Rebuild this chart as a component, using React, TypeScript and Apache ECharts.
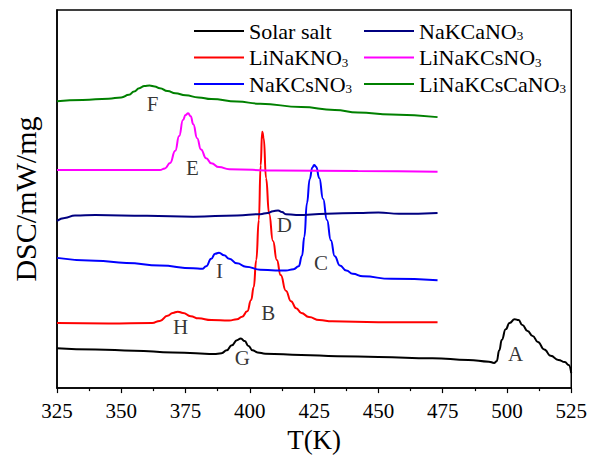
import React, { useEffect, useRef } from "react";
import * as echarts from "echarts";

// DSC heat-flow traces (T in K, DSC signal with a vertical offset per sample)
const solarSalt: [number, number][] = [
  [325, 0.95], [340, 0.92], [355, 0.89], [370, 0.85], [379, 0.83], [386, 0.81],
  [389, 0.83], [391, 0.9], [393, 1.02], [395, 1.14], [396.5, 1.18], [398, 1.12],
  [399.5, 1.0], [401, 0.9], [403, 0.85], [406, 0.82], [420, 0.79], [434, 0.76],
  [450, 0.74], [471, 0.71], [485, 0.67], [493, 0.63], [495, 0.6], [496, 0.64],
  [497, 0.9], [498, 1.15], [499.5, 1.4], [501, 1.55], [503, 1.64], [504.5, 1.62],
  [506, 1.5], [508, 1.36], [510, 1.24], [512, 1.1], [514.5, 0.92], [517, 0.77],
  [520, 0.67], [522.5, 0.62], [524, 0.55], [525, 0.36],
];
const liNaKNO3: [number, number][] = [
  [325, 1.55], [345, 1.54], [362, 1.55], [365, 1.6], [368, 1.72], [370, 1.79],
  [372, 1.82], [374, 1.79], [377, 1.71], [380, 1.66], [385, 1.62], [392, 1.61],
  [395, 1.64], [397, 1.7], [399, 1.83], [400.5, 2.1], [401.5, 2.4], [402.5, 3.05],
  [403.5, 4.0], [404.2, 5.3], [404.8, 6.1], [405.4, 5.95], [406.3, 5.0], [407.5, 4.15],
  [409, 3.5], [410.5, 3.05], [412, 2.69], [414, 2.32], [416, 2.07], [418, 1.9],
  [420, 1.79], [423, 1.69], [427, 1.62], [432, 1.59], [450, 1.57], [473, 1.57],
];
const naKCsNO3: [number, number][] = [
  [325, 3.1], [340, 3.03], [352, 2.98], [365, 2.92], [378, 2.85], [381.5, 2.84],
  [383, 2.9], [385, 3.08], [386.5, 3.2], [388, 3.22], [390, 3.16], [392, 3.08],
  [395, 2.97], [398.5, 2.89], [404, 2.82], [410, 2.8], [414, 2.8], [417, 2.83],
  [419, 2.9], [420.3, 3.15], [421.2, 3.6], [422.2, 4.4], [423.3, 4.98], [424.3, 5.25],
  [425, 5.31], [425.8, 5.27], [427, 5.0], [428.5, 4.5], [430, 4.0], [431.5, 3.52],
  [433, 3.14], [435, 2.92], [437.5, 2.8], [440, 2.72], [444, 2.66], [455, 2.6],
  [473, 2.57],
];
const naKCaNO3: [number, number][] = [
  [325, 3.98], [328, 4.05], [332, 4.11], [340, 4.12], [360, 4.1], [378, 4.08],
  [395, 4.11], [404, 4.14], [407, 4.17], [409, 4.21], [411, 4.23], [412.5, 4.19],
  [414, 4.14], [418, 4.12], [430, 4.15], [442, 4.17], [450, 4.18], [458, 4.15],
  [473, 4.17],
];
const liNaKCsNO3: [number, number][] = [
  [325, 5.19], [345, 5.19], [365, 5.19], [367, 5.23], [369, 5.36], [371, 5.65],
  [372.5, 6.0], [374, 6.38], [375, 6.5], [376, 6.54], [377, 6.47], [378, 6.28],
  [379.5, 5.95], [381, 5.68], [383, 5.47], [385, 5.35], [388, 5.26], [392, 5.21],
  [410, 5.18], [442, 5.17], [473, 5.15],
];
const liNaKCsCaNO3: [number, number][] = [
  [325, 6.83], [335, 6.86], [345, 6.89], [350, 6.92], [353, 6.98], [355, 7.06],
  [357, 7.14], [359, 7.19], [361, 7.2], [363, 7.18], [365, 7.14], [368, 7.07],
  [371, 7.02], [375, 6.97], [380, 6.92], [385, 6.88], [395, 6.82], [404, 6.77],
  [420, 6.69], [433, 6.62], [442, 6.56], [455, 6.51], [473, 6.45],
];

// Transition peak markers
const peakLabels: [number, number, string][] = [
  [503.3, 0.81, "A"], [407.2, 1.79, "B"], [427.7, 2.98, "C"], [413.4, 3.88, "D"],
  [377.7, 5.24, "E"], [362.2, 6.76, "F"], [397.1, 0.71, "G"], [373.1, 1.45, "H"],
  [388.2, 2.79, "I"],
];

const seriesDefs = [
  { name: "Solar salt", data: solarSalt, color: "#000000" },
  { name: "LiNaKNO3", data: liNaKNO3, color: "#ff0000" },
  { name: "NaKCsNO3", data: naKCsNO3, color: "#0000ff" },
  { name: "NaKCaNO3", data: naKCaNO3, color: "#000080" },
  { name: "LiNaKCsNO3", data: liNaKCsNO3, color: "#ff00ff" },
  { name: "LiNaKCsCaNO3", data: liNaKCsCaNO3, color: "#008000" },
];

const FONT = "Liberation Serif";

const legendText = {
  fontFamily: FONT,
  fontSize: 22,
  color: "#000",
  rich: {
    n: { fontFamily: FONT, fontSize: 22, lineHeight: 22, color: "#000" },
    s: { fontFamily: FONT, fontSize: 13, lineHeight: 22, color: "#000", verticalAlign: "bottom" },
  },
};

const legendFormatter = (name: string) =>
  name.endsWith("NO3") ? `{n|${name.slice(0, -1)}}{s|3}` : `{n|${name}}`;

export default function App() {
  const ref = useRef<HTMLDivElement>(null);

  useEffect(() => {
    if (!ref.current) return;
    const chart = echarts.init(ref.current, undefined, { renderer: "svg" });
    const legendBase = {
      orient: "vertical",
      top: 15,
      itemWidth: 50,
      itemHeight: 2,
      itemGap: 4.5,
      icon: "rect",
      formatter: legendFormatter,
      textStyle: legendText,
    };
    chart.setOption({
      animation: false,
      backgroundColor: "#ffffff",
      textStyle: { fontFamily: FONT },
      grid: {
        left: 57,
        right: 18,
        top: 10,
        bottom: 69,
        show: true,
        borderColor: "#000",
        borderWidth: 1.5,
        backgroundColor: "transparent",
      },
      legend: [
        { ...legendBase, left: 189, data: ["Solar salt", "LiNaKNO3", "NaKCsNO3"] },
        { ...legendBase, left: 359, data: ["NaKCaNO3", "LiNaKCsNO3", "LiNaKCsCaNO3"] },
      ],
      xAxis: {
        type: "value",
        min: 325,
        max: 525,
        interval: 25,
        name: "T(K)",
        nameLocation: "middle",
        nameGap: 37,
        nameTextStyle: { fontFamily: FONT, fontSize: 27, color: "#000" },
        axisLine: { show: true, lineStyle: { color: "#000", width: 1.5 } },
        axisTick: { show: true, inside: false, length: 5, lineStyle: { color: "#000", width: 1.2 } },
        minorTick: { show: true, splitNumber: 2, length: 3, lineStyle: { color: "#000", width: 1.2 } },
        axisLabel: { fontFamily: FONT, fontSize: 21, color: "#000", margin: 12 },
        splitLine: { show: false },
      },
      yAxis: {
        type: "value",
        min: 0,
        max: 9,
        name: "DSC/mW/mg",
        nameLocation: "middle",
        nameGap: 17,
        nameTextStyle: { fontFamily: FONT, fontSize: 30, color: "#000" },
        axisLine: { show: true, lineStyle: { color: "#000", width: 1.5 } },
        axisTick: { show: false },
        axisLabel: { show: false },
        splitLine: { show: false },
      },
      series: [
        ...seriesDefs.map((s) => ({
          name: s.name,
          type: "line",
          data: s.data,
          showSymbol: false,
          symbol: "none",
          smooth: 0.5,
          smoothMonotone: "x",
          color: s.color,
          lineStyle: { color: s.color, width: 2 },
        })),
        {
          name: "labels",
          type: "scatter",
          data: peakLabels,
          symbolSize: 1,
          itemStyle: { color: "rgba(0,0,0,0)" },
          label: {
            show: true,
            position: "inside",
            formatter: (p: any) => p.data[2],
            fontFamily: FONT,
            fontSize: 21,
            color: "#000",
          },
        },
      ],
    });
    return () => chart.dispose();
  }, []);

  return (
    <div
      ref={ref}
      style={{ position: "fixed", left: 0, top: 0, width: 590, height: 458, background: "#fff" }}
    />
  );
}
